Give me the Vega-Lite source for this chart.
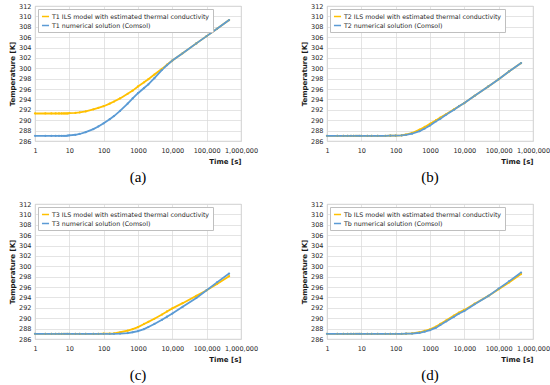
{
  "$schema": "https://vega.github.io/schema/vega-lite/v6.json",
  "background": "white",
  "padding": {"left": 8, "top": 2, "right": 0, "bottom": 0},
  "datasets": {
    "d": [
      {"p":"a","s":"ILS","t":1,"T":291.3},{"p":"a","s":"ILS","t":2,"T":291.3},{"p":"a","s":"ILS","t":3,"T":291.3},{"p":"a","s":"ILS","t":4,"T":291.3},{"p":"a","s":"ILS","t":5,"T":291.3},{"p":"a","s":"ILS","t":6,"T":291.3},{"p":"a","s":"ILS","t":7,"T":291.3},{"p":"a","s":"ILS","t":8,"T":291.3},{"p":"a","s":"ILS","t":9,"T":291.3},{"p":"a","s":"ILS","t":10,"T":291.35},{"p":"a","s":"ILS","t":15,"T":291.4},{"p":"a","s":"ILS","t":20,"T":291.5},{"p":"a","s":"ILS","t":30,"T":291.7},{"p":"a","s":"ILS","t":50,"T":292.1},{"p":"a","s":"ILS","t":70,"T":292.4},{"p":"a","s":"ILS","t":100,"T":292.7},{"p":"a","s":"ILS","t":150,"T":293.2},{"p":"a","s":"ILS","t":200,"T":293.6},{"p":"a","s":"ILS","t":300,"T":294.2},{"p":"a","s":"ILS","t":500,"T":295.1},{"p":"a","s":"ILS","t":700,"T":295.7},{"p":"a","s":"ILS","t":1000,"T":296.5},{"p":"a","s":"ILS","t":1500,"T":297.3},{"p":"a","s":"ILS","t":2000,"T":297.9},{"p":"a","s":"ILS","t":3000,"T":298.8},{"p":"a","s":"ILS","t":5000,"T":299.9},{"p":"a","s":"ILS","t":7000,"T":300.7},{"p":"a","s":"ILS","t":10000,"T":301.5},{"p":"a","s":"ILS","t":20000,"T":302.9},{"p":"a","s":"ILS","t":50000,"T":304.8},{"p":"a","s":"ILS","t":100000,"T":306.2},{"p":"a","s":"ILS","t":200000,"T":307.6},{"p":"a","s":"ILS","t":450000,"T":309.3},
      {"p":"a","s":"num","t":1,"T":287.0},{"p":"a","s":"num","t":2,"T":287.0},{"p":"a","s":"num","t":3,"T":287.0},{"p":"a","s":"num","t":4,"T":287.0},{"p":"a","s":"num","t":5,"T":287.0},{"p":"a","s":"num","t":6,"T":287.0},{"p":"a","s":"num","t":7,"T":287.0},{"p":"a","s":"num","t":8,"T":287.0},{"p":"a","s":"num","t":9,"T":287.05},{"p":"a","s":"num","t":10,"T":287.1},{"p":"a","s":"num","t":15,"T":287.2},{"p":"a","s":"num","t":20,"T":287.35},{"p":"a","s":"num","t":30,"T":287.7},{"p":"a","s":"num","t":50,"T":288.3},{"p":"a","s":"num","t":70,"T":288.8},{"p":"a","s":"num","t":100,"T":289.4},{"p":"a","s":"num","t":150,"T":290.2},{"p":"a","s":"num","t":200,"T":290.8},{"p":"a","s":"num","t":300,"T":291.8},{"p":"a","s":"num","t":500,"T":293.2},{"p":"a","s":"num","t":700,"T":294.2},{"p":"a","s":"num","t":1000,"T":295.2},{"p":"a","s":"num","t":1500,"T":296.2},{"p":"a","s":"num","t":2000,"T":296.9},{"p":"a","s":"num","t":3000,"T":298.1},{"p":"a","s":"num","t":5000,"T":299.7},{"p":"a","s":"num","t":7000,"T":300.6},{"p":"a","s":"num","t":10000,"T":301.5},{"p":"a","s":"num","t":20000,"T":302.9},{"p":"a","s":"num","t":50000,"T":304.8},{"p":"a","s":"num","t":100000,"T":306.2},{"p":"a","s":"num","t":200000,"T":307.6},{"p":"a","s":"num","t":450000,"T":309.3},

      {"p":"b","s":"ILS","t":1,"T":287.0},{"p":"b","s":"ILS","t":2,"T":287.0},{"p":"b","s":"ILS","t":3,"T":287.0},{"p":"b","s":"ILS","t":4,"T":287.0},{"p":"b","s":"ILS","t":5,"T":287.0},{"p":"b","s":"ILS","t":6,"T":287.0},{"p":"b","s":"ILS","t":7,"T":287.0},{"p":"b","s":"ILS","t":8,"T":287.0},{"p":"b","s":"ILS","t":9,"T":287.0},{"p":"b","s":"ILS","t":10,"T":287.0},{"p":"b","s":"ILS","t":15,"T":287.0},{"p":"b","s":"ILS","t":20,"T":287.0},{"p":"b","s":"ILS","t":30,"T":287.0},{"p":"b","s":"ILS","t":50,"T":287.0},{"p":"b","s":"ILS","t":70,"T":287.02},{"p":"b","s":"ILS","t":100,"T":287.05},{"p":"b","s":"ILS","t":150,"T":287.1},{"p":"b","s":"ILS","t":200,"T":287.25},{"p":"b","s":"ILS","t":300,"T":287.55},{"p":"b","s":"ILS","t":500,"T":288.2},{"p":"b","s":"ILS","t":700,"T":288.7},{"p":"b","s":"ILS","t":1000,"T":289.3},{"p":"b","s":"ILS","t":1500,"T":290.0},{"p":"b","s":"ILS","t":2000,"T":290.5},{"p":"b","s":"ILS","t":3000,"T":291.2},{"p":"b","s":"ILS","t":5000,"T":292.1},{"p":"b","s":"ILS","t":7000,"T":292.7},{"p":"b","s":"ILS","t":10000,"T":293.3},{"p":"b","s":"ILS","t":20000,"T":294.7},{"p":"b","s":"ILS","t":50000,"T":296.5},{"p":"b","s":"ILS","t":100000,"T":297.9},{"p":"b","s":"ILS","t":200000,"T":299.4},{"p":"b","s":"ILS","t":450000,"T":301.0},
      {"p":"b","s":"num","t":1,"T":287.0},{"p":"b","s":"num","t":2,"T":287.0},{"p":"b","s":"num","t":3,"T":287.0},{"p":"b","s":"num","t":4,"T":287.0},{"p":"b","s":"num","t":5,"T":287.0},{"p":"b","s":"num","t":6,"T":287.0},{"p":"b","s":"num","t":7,"T":287.0},{"p":"b","s":"num","t":8,"T":287.0},{"p":"b","s":"num","t":9,"T":287.0},{"p":"b","s":"num","t":10,"T":287.0},{"p":"b","s":"num","t":15,"T":287.0},{"p":"b","s":"num","t":20,"T":287.0},{"p":"b","s":"num","t":30,"T":287.0},{"p":"b","s":"num","t":50,"T":287.0},{"p":"b","s":"num","t":70,"T":287.02},{"p":"b","s":"num","t":100,"T":287.05},{"p":"b","s":"num","t":150,"T":287.1},{"p":"b","s":"num","t":200,"T":287.2},{"p":"b","s":"num","t":300,"T":287.4},{"p":"b","s":"num","t":500,"T":287.9},{"p":"b","s":"num","t":700,"T":288.4},{"p":"b","s":"num","t":1000,"T":289.0},{"p":"b","s":"num","t":1500,"T":289.8},{"p":"b","s":"num","t":2000,"T":290.3},{"p":"b","s":"num","t":3000,"T":291.1},{"p":"b","s":"num","t":5000,"T":292.0},{"p":"b","s":"num","t":7000,"T":292.7},{"p":"b","s":"num","t":10000,"T":293.3},{"p":"b","s":"num","t":20000,"T":294.7},{"p":"b","s":"num","t":50000,"T":296.5},{"p":"b","s":"num","t":100000,"T":297.9},{"p":"b","s":"num","t":200000,"T":299.4},{"p":"b","s":"num","t":450000,"T":301.0},

      {"p":"c","s":"ILS","t":1,"T":287.0},{"p":"c","s":"ILS","t":2,"T":287.0},{"p":"c","s":"ILS","t":3,"T":287.0},{"p":"c","s":"ILS","t":4,"T":287.0},{"p":"c","s":"ILS","t":5,"T":287.0},{"p":"c","s":"ILS","t":6,"T":287.0},{"p":"c","s":"ILS","t":7,"T":287.0},{"p":"c","s":"ILS","t":8,"T":287.0},{"p":"c","s":"ILS","t":9,"T":287.0},{"p":"c","s":"ILS","t":10,"T":287.0},{"p":"c","s":"ILS","t":15,"T":287.0},{"p":"c","s":"ILS","t":20,"T":287.0},{"p":"c","s":"ILS","t":30,"T":287.0},{"p":"c","s":"ILS","t":50,"T":287.0},{"p":"c","s":"ILS","t":70,"T":287.0},{"p":"c","s":"ILS","t":100,"T":287.02},{"p":"c","s":"ILS","t":150,"T":287.05},{"p":"c","s":"ILS","t":200,"T":287.1},{"p":"c","s":"ILS","t":300,"T":287.3},{"p":"c","s":"ILS","t":500,"T":287.6},{"p":"c","s":"ILS","t":700,"T":287.9},{"p":"c","s":"ILS","t":1000,"T":288.3},{"p":"c","s":"ILS","t":1500,"T":288.9},{"p":"c","s":"ILS","t":2000,"T":289.3},{"p":"c","s":"ILS","t":3000,"T":289.9},{"p":"c","s":"ILS","t":5000,"T":290.7},{"p":"c","s":"ILS","t":7000,"T":291.3},{"p":"c","s":"ILS","t":10000,"T":291.9},{"p":"c","s":"ILS","t":20000,"T":292.9},{"p":"c","s":"ILS","t":50000,"T":294.3},{"p":"c","s":"ILS","t":100000,"T":295.4},{"p":"c","s":"ILS","t":200000,"T":296.6},{"p":"c","s":"ILS","t":450000,"T":298.1},
      {"p":"c","s":"num","t":1,"T":287.0},{"p":"c","s":"num","t":2,"T":287.0},{"p":"c","s":"num","t":3,"T":287.0},{"p":"c","s":"num","t":4,"T":287.0},{"p":"c","s":"num","t":5,"T":287.0},{"p":"c","s":"num","t":6,"T":287.0},{"p":"c","s":"num","t":7,"T":287.0},{"p":"c","s":"num","t":8,"T":287.0},{"p":"c","s":"num","t":9,"T":287.0},{"p":"c","s":"num","t":10,"T":287.0},{"p":"c","s":"num","t":15,"T":287.0},{"p":"c","s":"num","t":20,"T":287.0},{"p":"c","s":"num","t":30,"T":287.0},{"p":"c","s":"num","t":50,"T":287.0},{"p":"c","s":"num","t":70,"T":287.0},{"p":"c","s":"num","t":100,"T":287.0},{"p":"c","s":"num","t":150,"T":287.0},{"p":"c","s":"num","t":200,"T":287.0},{"p":"c","s":"num","t":300,"T":287.05},{"p":"c","s":"num","t":500,"T":287.15},{"p":"c","s":"num","t":700,"T":287.3},{"p":"c","s":"num","t":1000,"T":287.5},{"p":"c","s":"num","t":1500,"T":287.9},{"p":"c","s":"num","t":2000,"T":288.3},{"p":"c","s":"num","t":3000,"T":288.9},{"p":"c","s":"num","t":5000,"T":289.7},{"p":"c","s":"num","t":7000,"T":290.3},{"p":"c","s":"num","t":10000,"T":290.9},{"p":"c","s":"num","t":20000,"T":292.2},{"p":"c","s":"num","t":50000,"T":293.9},{"p":"c","s":"num","t":100000,"T":295.4},{"p":"c","s":"num","t":200000,"T":296.9},{"p":"c","s":"num","t":450000,"T":298.6},

      {"p":"d","s":"ILS","t":1,"T":287.0},{"p":"d","s":"ILS","t":2,"T":287.0},{"p":"d","s":"ILS","t":3,"T":287.0},{"p":"d","s":"ILS","t":4,"T":287.0},{"p":"d","s":"ILS","t":5,"T":287.0},{"p":"d","s":"ILS","t":6,"T":287.0},{"p":"d","s":"ILS","t":7,"T":287.0},{"p":"d","s":"ILS","t":8,"T":287.0},{"p":"d","s":"ILS","t":9,"T":287.0},{"p":"d","s":"ILS","t":10,"T":287.0},{"p":"d","s":"ILS","t":15,"T":287.0},{"p":"d","s":"ILS","t":20,"T":287.0},{"p":"d","s":"ILS","t":30,"T":287.0},{"p":"d","s":"ILS","t":50,"T":287.0},{"p":"d","s":"ILS","t":70,"T":287.0},{"p":"d","s":"ILS","t":100,"T":287.0},{"p":"d","s":"ILS","t":150,"T":287.0},{"p":"d","s":"ILS","t":200,"T":287.03},{"p":"d","s":"ILS","t":300,"T":287.1},{"p":"d","s":"ILS","t":500,"T":287.3},{"p":"d","s":"ILS","t":700,"T":287.55},{"p":"d","s":"ILS","t":1000,"T":287.85},{"p":"d","s":"ILS","t":1500,"T":288.4},{"p":"d","s":"ILS","t":2000,"T":288.9},{"p":"d","s":"ILS","t":3000,"T":289.6},{"p":"d","s":"ILS","t":5000,"T":290.5},{"p":"d","s":"ILS","t":7000,"T":291.1},{"p":"d","s":"ILS","t":10000,"T":291.6},{"p":"d","s":"ILS","t":20000,"T":292.8},{"p":"d","s":"ILS","t":50000,"T":294.3},{"p":"d","s":"ILS","t":100000,"T":295.6},{"p":"d","s":"ILS","t":200000,"T":296.9},{"p":"d","s":"ILS","t":450000,"T":298.5},
      {"p":"d","s":"num","t":1,"T":287.0},{"p":"d","s":"num","t":2,"T":287.0},{"p":"d","s":"num","t":3,"T":287.0},{"p":"d","s":"num","t":4,"T":287.0},{"p":"d","s":"num","t":5,"T":287.0},{"p":"d","s":"num","t":6,"T":287.0},{"p":"d","s":"num","t":7,"T":287.0},{"p":"d","s":"num","t":8,"T":287.0},{"p":"d","s":"num","t":9,"T":287.0},{"p":"d","s":"num","t":10,"T":287.0},{"p":"d","s":"num","t":15,"T":287.0},{"p":"d","s":"num","t":20,"T":287.0},{"p":"d","s":"num","t":30,"T":287.0},{"p":"d","s":"num","t":50,"T":287.0},{"p":"d","s":"num","t":70,"T":287.0},{"p":"d","s":"num","t":100,"T":287.0},{"p":"d","s":"num","t":150,"T":287.0},{"p":"d","s":"num","t":200,"T":287.02},{"p":"d","s":"num","t":300,"T":287.05},{"p":"d","s":"num","t":500,"T":287.2},{"p":"d","s":"num","t":700,"T":287.4},{"p":"d","s":"num","t":1000,"T":287.7},{"p":"d","s":"num","t":1500,"T":288.2},{"p":"d","s":"num","t":2000,"T":288.7},{"p":"d","s":"num","t":3000,"T":289.4},{"p":"d","s":"num","t":5000,"T":290.3},{"p":"d","s":"num","t":7000,"T":290.9},{"p":"d","s":"num","t":10000,"T":291.4},{"p":"d","s":"num","t":20000,"T":292.7},{"p":"d","s":"num","t":50000,"T":294.3},{"p":"d","s":"num","t":100000,"T":295.7},{"p":"d","s":"num","t":200000,"T":297.1},{"p":"d","s":"num","t":450000,"T":298.8}
    ]
  },
  "data": {"name": "d"},
  "columns": 2,
  "bounds": "flush",
  "spacing": {"row": 63, "column": 86},
  "resolve": {"scale": {"color": "independent"}},
  "concat": [
    {
      "width": 206, "height": 135,
      "title": {"text": "(a)"},
      "transform": [{"filter": "datum.p == 'a'"}],
      "mark": {"type": "line", "strokeWidth": 1.8, "point": {"filled": true, "size": 5}},
      "encoding": {
        "x": {"field": "t", "type": "quantitative", "scale": {"type": "log", "domain": [1, 1000000]}, "axis": {"title": "Time [s]", "values": [1, 10, 100, 1000, 10000, 100000, 1000000], "labelExpr": "datum.value >= 10000 ? format(datum.value, ',') : format(datum.value, 'd')"}},
        "y": {"field": "T", "type": "quantitative", "scale": {"domain": [286, 312], "nice": false, "zero": false}, "axis": {"title": "Temperature [K]", "values": [286, 288, 290, 292, 294, 296, 298, 300, 302, 304, 306, 308, 310, 312]}},
        "color": {"field": "s", "type": "nominal", "scale": {"domain": ["ILS", "num"], "range": ["#FFC000", "#5B9BD5"]}, "legend": {"title": null, "labelExpr": "datum.value == 'ILS' ? 'T1 ILS model with estimated thermal conductivity' : 'T1 numerical solution (Comsol)'"}}
      }
    },
    {
      "width": 206, "height": 135,
      "title": {"text": "(b)"},
      "transform": [{"filter": "datum.p == 'b'"}],
      "mark": {"type": "line", "strokeWidth": 1.8, "point": {"filled": true, "size": 5}},
      "encoding": {
        "x": {"field": "t", "type": "quantitative", "scale": {"type": "log", "domain": [1, 1000000]}, "axis": {"title": "Time [s]", "values": [1, 10, 100, 1000, 10000, 100000, 1000000], "labelExpr": "datum.value >= 10000 ? format(datum.value, ',') : format(datum.value, 'd')"}},
        "y": {"field": "T", "type": "quantitative", "scale": {"domain": [286, 312], "nice": false, "zero": false}, "axis": {"title": "Temperature [K]", "values": [286, 288, 290, 292, 294, 296, 298, 300, 302, 304, 306, 308, 310, 312]}},
        "color": {"field": "s", "type": "nominal", "scale": {"domain": ["ILS", "num"], "range": ["#FFC000", "#5B9BD5"]}, "legend": {"title": null, "labelExpr": "datum.value == 'ILS' ? 'T2 ILS model with estimated thermal conductivity' : 'T2 numerical solution (Comsol)'"}}
      }
    },
    {
      "width": 206, "height": 135,
      "title": {"text": "(c)"},
      "transform": [{"filter": "datum.p == 'c'"}],
      "mark": {"type": "line", "strokeWidth": 1.8, "point": {"filled": true, "size": 5}},
      "encoding": {
        "x": {"field": "t", "type": "quantitative", "scale": {"type": "log", "domain": [1, 1000000]}, "axis": {"title": "Time [s]", "values": [1, 10, 100, 1000, 10000, 100000, 1000000], "labelExpr": "datum.value >= 10000 ? format(datum.value, ',') : format(datum.value, 'd')"}},
        "y": {"field": "T", "type": "quantitative", "scale": {"domain": [286, 312], "nice": false, "zero": false}, "axis": {"title": "Temperature [K]", "values": [286, 288, 290, 292, 294, 296, 298, 300, 302, 304, 306, 308, 310, 312]}},
        "color": {"field": "s", "type": "nominal", "scale": {"domain": ["ILS", "num"], "range": ["#FFC000", "#5B9BD5"]}, "legend": {"title": null, "labelExpr": "datum.value == 'ILS' ? 'T3 ILS model with estimated thermal conductivity' : 'T3 numerical solution (Comsol)'"}}
      }
    },
    {
      "width": 206, "height": 135,
      "title": {"text": "(d)"},
      "transform": [{"filter": "datum.p == 'd'"}],
      "mark": {"type": "line", "strokeWidth": 1.8, "point": {"filled": true, "size": 5}},
      "encoding": {
        "x": {"field": "t", "type": "quantitative", "scale": {"type": "log", "domain": [1, 1000000]}, "axis": {"title": "Time [s]", "values": [1, 10, 100, 1000, 10000, 100000, 1000000], "labelExpr": "datum.value >= 10000 ? format(datum.value, ',') : format(datum.value, 'd')"}},
        "y": {"field": "T", "type": "quantitative", "scale": {"domain": [286, 312], "nice": false, "zero": false}, "axis": {"title": "Temperature [K]", "values": [286, 288, 290, 292, 294, 296, 298, 300, 302, 304, 306, 308, 310, 312]}},
        "color": {"field": "s", "type": "nominal", "scale": {"domain": ["ILS", "num"], "range": ["#FFC000", "#5B9BD5"]}, "legend": {"title": null, "labelExpr": "datum.value == 'ILS' ? 'Tb ILS model with estimated thermal conductivity' : 'Tb numerical solution (Comsol)'"}}
      }
    }
  ],
  "config": {
    "font": "DejaVu Sans",
    "view": {"stroke": "#c4c4c4", "strokeWidth": 0.8},
    "axis": {"grid": true, "gridColor": "#d9d9d9", "gridWidth": 0.7, "domain": false, "ticks": false, "labelFontSize": 6.5, "labelColor": "#262626", "titleFontSize": 7, "titleFontWeight": "bold", "titleColor": "#1a1a1a"},
    "axisX": {"labelPadding": 6, "titlePadding": 4, "titleAnchor": "end", "labelFlush": false, "labelOverlap": false, "labelBound": false},
    "axisY": {"labelPadding": 4, "titlePadding": 3},
    "legend": {"orient": "top-left", "offset": 3, "padding": 3, "strokeColor": "#bfbfbf", "fillColor": "white", "labelFontSize": 6.3, "labelColor": "#262626", "symbolType": "stroke", "symbolStrokeWidth": 1.5, "symbolSize": 50, "rowPadding": 1, "labelOffset": 2, "cornerRadius": 0},
    "title": {"font": "Liberation Serif", "fontSize": 15, "fontWeight": "normal", "orient": "bottom", "anchor": "middle", "offset": 5, "color": "#000000"}
  }
}
